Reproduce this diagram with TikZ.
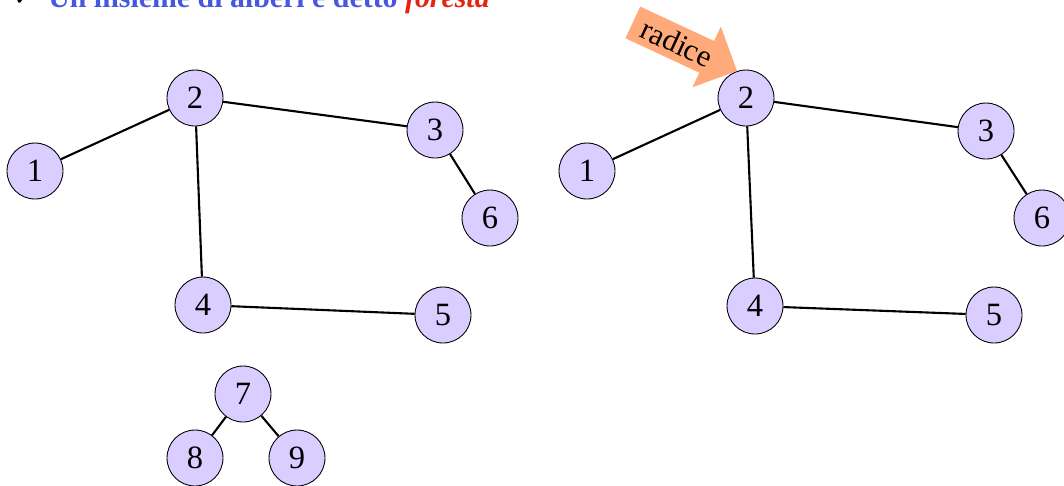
\documentclass[tikz,border=0pt]{standalone}
\usepackage{fontspec}
\setmainfont{Liberation Serif}
\newfontfamily\symfont{DejaVu Sans}
\usetikzlibrary{shapes.arrows}
\definecolor{vnode}{RGB}{217,206,255}
\definecolor{tblue}{RGB}{72,88,222}
\definecolor{tred}{RGB}{228,36,18}
\definecolor{rootarr}{RGB}{255,170,122}

\begin{document}
\begin{tikzpicture}[
  x=0.02cm, y=-0.02cm,
  vtx/.style  = {draw, circle, line width=0.5pt, fill=vnode, minimum size=1.12cm,
                 inner sep=0pt, font=\fontsize{18.5}{21}\selectfont},
  edge/.style = {draw, line width=1.2pt},
  lbl/.style  = {inner sep=0pt},
]
\useasboundingbox (0,0) rectangle (1064,485);
\clip (0,0) rectangle (1064,485);

% =============== heading (cut by the top edge) ===============
\node[lbl, anchor=base west] (tick) at (13,5) {\symfont\fontsize{14}{16}\selectfont ✓};
\node[lbl, anchor=base west] (head) at (48,7)
  {\fontsize{17}{20}\selectfont\bfseries\color{tblue}Un insieme di alberi è detto
   \color{tred}\itshape foresta};

% =============== forest: left copy ===============
\node[vtx] (a1) at (35,171) {1};
\node[vtx] (a2) at (195,98) {2};
\node[vtx] (a3) at (435,130) {3};
\node[vtx] (a6) at (490,218) {6};
\node[vtx] (a4) at (203,305) {4};
\node[vtx] (a5) at (443,315) {5};

\node[vtx] (a7) at (243,394) {7};
\node[vtx] (a8) at (195,458) {8};
\node[vtx] (a9) at (297,458) {9};

\foreach \u/\v in {a1/a2, a2/a3, a3/a6, a2/a4, a4/a5, a7/a8, a7/a9}
  \draw[edge] (\u) -- (\v);

% =============== same tree, rooted at 2 ===============
\node[vtx] (b1) at (587,171) {1};
\node[vtx] (b2) at (746,98) {2};
\node[vtx] (b3) at (986,131) {3};
\node[vtx] (b6) at (1042,218) {6};
\node[vtx] (b4) at (755,306) {4};
\node[vtx] (b5) at (994,315) {5};

\foreach \u/\v in {b1/b2, b2/b3, b3/b6, b2/b4, b4/b5}
  \draw[edge] (\u) -- (\v);

\node[single arrow, fill=rootarr, rotate=-25, minimum height=2.3cm,
      single arrow head extend=0.32cm, inner xsep=2pt, inner ysep=3.6pt,
      font=\fontsize{17.5}{19}\selectfont] (root) at (677,43) {radice\hspace{0.5cm}};

\end{tikzpicture}
\end{document}
